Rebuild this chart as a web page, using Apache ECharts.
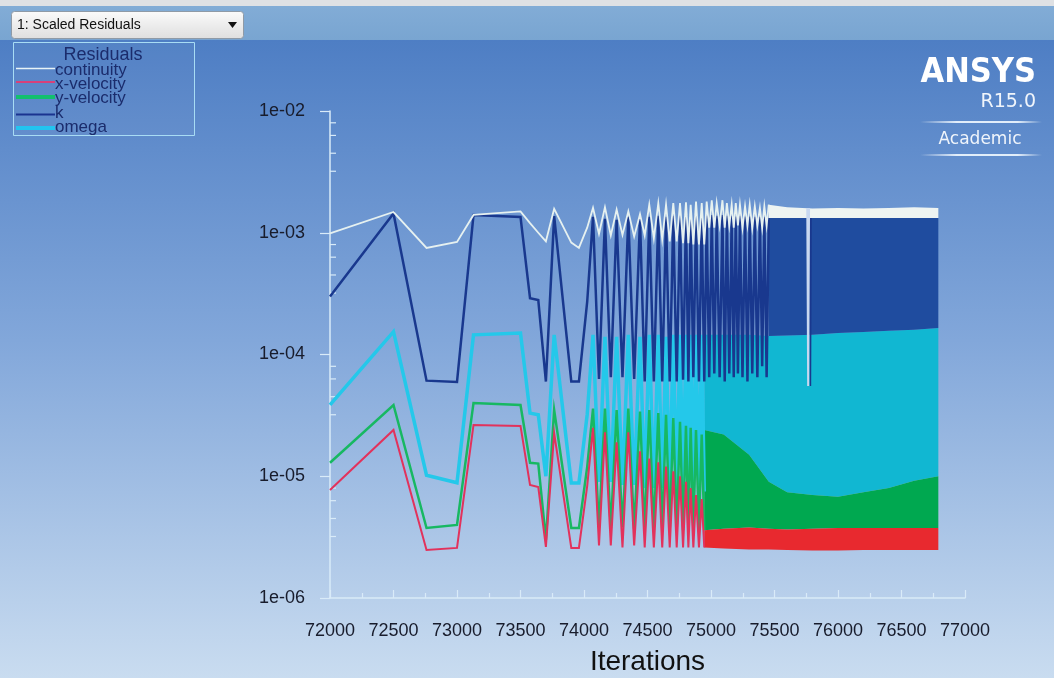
<!DOCTYPE html>
<html>
<head>
<meta charset="utf-8">
<script src="https://cdn.jsdelivr.net/npm/echarts@6/dist/echarts.min.js"></script>
<style>
  html, body { margin: 0; padding: 0; }
  body {
    width: 1054px; height: 678px; overflow: hidden;
    background: linear-gradient(to bottom, #dfe1e4 0px, #dfe1e4 6px, #82acd6 6px, #79a5d1 40px,
      #4e7ec4 40px, #82a7da 340px, #c9dcf0 678px);
  }
  #chart { width: 1054px; height: 678px; }
</style>
</head>
<body>
<div id="chart"></div>
<script>
// iteration numbers of the drawn vertices (early part + zigzag, all series)
const iters = [72000, 72500, 72760, 73000, 73130, 73500, 73575, 73640, 73700, 73765, 73900, 73960, 74025, 74071,
  74118, 74165, 74211, 74257, 74303, 74349, 74395, 74441, 74478, 74514, 74550, 74585, 74616, 74646, 74675,
  74703, 74730, 74756, 74780, 74803, 74822, 74840, 74861, 74882, 74905, 74927, 74947];
// extra zigzag vertices for continuity and k only
const itersLate = [74966, 74986, 75006, 75026, 75045, 75068, 75090, 75108, 75125, 75144, 75163, 75179, 75195,
  75212, 75228, 75248, 75268, 75287, 75305, 75325, 75345, 75365, 75385, 75403, 75420, 75438, 75455];

const continuity = [9.9e-4, 1.48e-3, 7.5e-4, 8.4e-4, 1.40e-3, 1.5e-3, 1.2e-3, 1.0e-3, 8.5e-4, 1.57e-3, 8.3e-4, 7.5e-4, 1.1e-3, 1.6e-3,
  9.8e-4, 1.62e-3, 9.5e-4, 1.55e-3, 9.6e-4, 1.5e-3, 9.3e-4, 1.42e-3, 9.5e-4, 1.7e-3, 9.0e-4, 1.75e-3, 8.8e-4, 1.7e-3,
  8.5e-4, 1.75e-3, 8.5e-4, 1.75e-3, 8.2e-4, 1.78e-3, 8.2e-4, 1.7e-3, 8.0e-4, 1.8e-3, 8.0e-4, 1.75e-3, 8.0e-4];
const continuityLate = [1.8e-3, 1.1e-3, 1.85e-3, 1.1e-3, 1.75e-3, 1.15e-3, 1.85e-3, 1.1e-3, 1.75e-3, 1.15e-3, 1.7e-3, 1.1e-3,
  1.75e-3, 1.15e-3, 1.7e-3, 1.1e-3, 1.65e-3, 1.15e-3, 1.7e-3, 1.1e-3, 1.65e-3, 1.15e-3, 1.6e-3, 1.1e-3, 1.65e-3, 1.15e-3, 1.7e-3];

const kRes = [3.0e-4, 1.44e-3, 6.1e-5, 5.95e-5, 1.4e-3, 1.35e-3, 2.9e-4, 2.8e-4, 6.0e-5, 1.37e-3, 6.0e-5, 6.0e-5, 2.7e-4, 1.35e-3,
  6.3e-5, 1.3e-3, 6.5e-5, 1.28e-3, 6.5e-5, 1.35e-3, 6.3e-5, 1.3e-3, 6.0e-5, 1.35e-3, 6.0e-5, 1.38e-3, 6.0e-5, 1.35e-3,
  6.0e-5, 1.38e-3, 6.0e-5, 1.38e-3, 6.2e-5, 1.4e-3, 6.0e-5, 1.38e-3, 6.5e-5, 1.4e-3, 6.0e-5, 1.38e-3, 6.0e-5];
const kLate = [1.38e-3, 6.5e-5, 1.4e-3, 7e-5, 1.38e-3, 6.5e-5, 1.4e-3, 6e-5, 1.38e-3, 7e-5, 1.38e-3, 6.5e-5, 1.36e-3, 7e-5,
  1.38e-3, 6.5e-5, 1.36e-3, 6e-5, 1.36e-3, 7e-5, 1.35e-3, 6.5e-5, 1.35e-3, 8e-5, 1.35e-3, 6.5e-5, 1.32e-3];

const omega = [3.85e-5, 1.54e-4, 1.02e-5, 8.85e-6, 1.45e-4, 1.5e-4, 3.3e-5, 3.2e-5, 1.0e-5, 1.45e-4, 8.8e-6, 8.8e-6, 3.2e-5, 1.45e-4,
  9e-6, 1.4e-4, 9e-6, 1.4e-4, 8.5e-6, 1.45e-4, 8.5e-6, 1.4e-4, 8e-6, 1.45e-4, 8e-6, 1.45e-4, 8e-6, 1.4e-4,
  7.5e-6, 1.45e-4, 7.5e-6, 1.45e-4, 7.5e-6, 1.45e-4, 7.5e-6, 1.45e-4, 7.5e-6, 1.45e-4, 7.5e-6, 1.45e-4, 7.5e-6];

const yVelocity = [1.29e-5, 3.85e-5, 3.76e-6, 3.98e-6, 4.0e-5, 3.85e-5, 1.29e-5, 1.27e-5, 3.0e-6, 3.5e-5, 3.76e-6, 3.76e-6, 1.19e-5, 3.6e-5,
  3.8e-6, 3.6e-5, 3.7e-6, 3.5e-5, 3.8e-6, 3.6e-5, 3.7e-6, 3.4e-5, 3.6e-6, 3.5e-5, 3.6e-6, 3.3e-5, 3.6e-6, 3.2e-5,
  3.6e-6, 3.0e-5, 3.6e-6, 2.8e-5, 3.6e-6, 2.6e-5, 3.6e-6, 2.5e-5, 3.6e-6, 2.4e-5, 3.6e-6, 2.2e-5, 3.6e-6];

const xVelocity = [7.7e-6, 2.4e-5, 2.48e-6, 2.58e-6, 2.64e-5, 2.59e-5, 8.47e-6, 8.16e-6, 2.63e-6, 2.26e-5, 2.58e-6, 2.58e-6, 8.3e-6, 2.5e-5,
  2.7e-6, 2.3e-5, 2.7e-6, 1.9e-5, 2.6e-6, 2.3e-5, 2.7e-6, 1.6e-5, 2.6e-6, 1.4e-5, 2.6e-6, 1.3e-5, 2.6e-6, 1.2e-5,
  2.6e-6, 1.1e-5, 2.6e-6, 1.0e-5, 2.6e-6, 9e-6, 2.6e-6, 8e-6, 2.6e-6, 7e-6, 2.6e-6, 6.5e-6, 2.6e-6];

// dense part: the curves swing every iteration, so only their envelopes can be read
const bandIters = [74947, 75100, 75300, 75455, 75600, 75800, 76000, 76200, 76400, 76600, 76790];
const contTop  = [null, null, null, 1.7e-3, 1.62e-3, 1.58e-3, 1.6e-3, 1.58e-3, 1.6e-3, 1.62e-3, 1.6e-3];
const kTop     = [null, null, null, 1.32e-3, 1.32e-3, 1.32e-3, 1.32e-3, 1.32e-3, 1.32e-3, 1.32e-3, 1.32e-3];
const omegaTop = [1.45e-4, 1.45e-4, 1.45e-4, 1.42e-4, 1.43e-4, 1.45e-4, 1.5e-4, 1.53e-4, 1.57e-4, 1.6e-4, 1.65e-4];
const yVelTop  = [2.4e-5, 2.2e-5, 1.5e-5, 9.0e-6, 7.4e-6, 7.0e-6, 6.8e-6, 7.4e-6, 8.0e-6, 9.2e-6, 1.0e-5];
const xVelTop  = [3.6e-6, 3.7e-6, 3.8e-6, 3.7e-6, 3.65e-6, 3.7e-6, 3.75e-6, 3.75e-6, 3.75e-6, 3.75e-6, 3.75e-6];
const xVelBottom = [2.6e-6, 2.55e-6, 2.5e-6, 2.5e-6, 2.48e-6, 2.45e-6, 2.45e-6, 2.48e-6, 2.48e-6, 2.48e-6, 2.48e-6];

// single drop-outs near 75770
const contSpikeIters = [75758, 75765, 75772];
const contSpike = [1.6e-3, 5.5e-5, 1.6e-3];
const kSpikeIters = [75778, 75783, 75788];
const kSpike = [1.32e-3, 5.5e-5, 1.32e-3];

const seriesNames = ['continuity', 'x-velocity', 'y-velocity', 'k', 'omega'];
const xTicks = { min: 72000, max: 77000, step: 500 };
const yRange = { min: 1e-6, max: 1e-2 };
const minorFactors = [0.8, 0.63, 0.45, 0.32];

const axisColor = '#d9ebf8';
const labelColor = '#181c2c';
const font = '"Liberation Sans", Arial, sans-serif';

const lineColors = {
  continuity: '#e6f1f0', 'x-velocity': '#e2325c', 'y-velocity': '#17b862', k: '#19388e', omega: '#24c8ea'
};
const bandColors = {
  continuity: '#eef4f2', 'x-velocity': '#e8292f', 'y-velocity': '#00a850', k: '#1f4c9f', omega: '#11b7d2'
};

function lineSeries(name, xs, ys, color, width) {
  return {
    type: 'line', name: name, data: xs.map((x, i) => [x, ys[i]]),
    symbol: 'none', silent: true, clip: true,
    lineStyle: { color: color, width: width, join: 'miter' }, itemStyle: { color: color }
  };
}

function bandSeries(name, lo, hi, color) {
  const pts = [];
  bandIters.forEach((x, i) => {
    if (lo[i] != null && hi[i] != null) pts.push([x, lo[i], hi[i]]);
  });
  return {
    type: 'custom', name: name, silent: true, clip: true,
    data: pts,
    encode: { x: 0, y: [1, 2] },
    renderItem: function (params, api) {
      if (params.dataIndex !== 0) return null;
      const top = pts.map(p => api.coord([p[0], p[2]]));
      const bot = pts.map(p => api.coord([p[0], p[1]])).reverse();
      return { type: 'polygon', shape: { points: top.concat(bot) }, style: { fill: color } };
    }
  };
}

// minor ticks of the log axis, drawn inside the plot
const minorTickVals = [];
for (let e = -2; e > -6; e--) minorFactors.forEach(f => minorTickVals.push(f * Math.pow(10, e)));

const minorTickSeries = {
  type: 'custom', silent: true,
  data: minorTickVals.map(v => [xTicks.min, v]),
  renderItem: function (params, api) {
    const p = api.coord([api.value(0), api.value(1)]);
    return { type: 'line', shape: { x1: p[0], y1: p[1], x2: p[0] + 6, y2: p[1] },
      style: { stroke: axisColor, lineWidth: 1.2 } };
  }
};

const legendLineY = [68.5, 82, 97, 114.5, 128];
const legendTextY = [70, 84, 98.5, 113, 127.5];
const legendWidths = [1.5, 2, 4, 2, 4];
const legendColors = ['#e8f3f7', '#d8407a', '#12c06e', '#1a3490', '#22c4f0'];

const graphics = [
  // dropdown
  { type: 'rect', shape: { x: 11.5, y: 11.5, width: 232, height: 27, r: 3 },
    style: { fill: new echarts.graphic.LinearGradient(0, 0, 0, 1, [
      { offset: 0, color: '#fbfbfb' }, { offset: 1, color: '#dedede' }]), stroke: '#8f9aa6', lineWidth: 1 } },
  { type: 'text', style: { text: '1: Scaled Residuals', x: 17, y: 25.5, font: '14px ' + font,
      fill: '#101010', textVerticalAlign: 'middle' } },
  { type: 'polygon', shape: { points: [[228, 22], [237, 22], [232.5, 28]] }, style: { fill: '#111' } },
  // legend box
  { type: 'rect', shape: { x: 13.5, y: 42.5, width: 181, height: 93 },
    style: { fill: 'rgba(255,255,255,0.03)', stroke: '#a8dcf4', lineWidth: 1 } },
  { type: 'text', style: { text: 'Residuals', x: 103, y: 55, font: '18px ' + font, fill: '#1b2c6c',
      textAlign: 'center', textVerticalAlign: 'middle' } }
];
seriesNames.forEach((n, i) => {
  graphics.push({ type: 'line', shape: { x1: 16, y1: legendLineY[i], x2: 55, y2: legendLineY[i] },
    style: { stroke: legendColors[i], lineWidth: legendWidths[i] } });
  graphics.push({ type: 'text', style: { text: n, x: 55, y: legendTextY[i], font: '17px ' + font,
    fill: '#1b2c6c', textVerticalAlign: 'middle' } });
});
// ANSYS mark
const rule = new echarts.graphic.LinearGradient(0, 0, 1, 0, [
  { offset: 0, color: 'rgba(255,255,255,0)' }, { offset: 0.3, color: 'rgba(240,248,255,0.9)' },
  { offset: 0.8, color: 'rgba(240,248,255,0.9)' }, { offset: 1, color: 'rgba(255,255,255,0)' }]);
graphics.push(
  { type: 'text', style: { text: 'ANSYS', x: 1036, y: 73, font: 'bold 34px "DejaVu Sans Condensed", "DejaVu Sans", sans-serif',
      fill: '#ffffff', textAlign: 'right', textVerticalAlign: 'middle' } },
  { type: 'text', style: { text: 'R15.0', x: 1036, y: 102, font: '19px "DejaVu Sans", sans-serif',
      fill: '#f0f5fb', textAlign: 'right', textVerticalAlign: 'middle' } },
  { type: 'rect', shape: { x: 920, y: 121, width: 122, height: 2 }, style: { fill: rule } },
  { type: 'text', style: { text: 'Academic', x: 980, y: 140, font: '17px "DejaVu Sans", sans-serif',
      fill: '#f0f5fb', textAlign: 'center', textVerticalAlign: 'middle' } },
  { type: 'rect', shape: { x: 920, y: 154, width: 122, height: 2 }, style: { fill: rule } }
);

function expLabel(v) {
  const e = Math.round(-Math.log10(v));
  return '1e-' + String(e).padStart(2, '0');
}

const chart = echarts.init(document.getElementById('chart'), null, { renderer: 'canvas' });
chart.setOption({
  backgroundColor: 'transparent',
  animation: false,
  grid: { left: 330, right: 89, top: 111, bottom: 80, containLabel: false, outerBoundsMode: 'none' },
  xAxis: {
    type: 'value', min: xTicks.min, max: xTicks.max, interval: xTicks.step,
    name: 'Iterations', nameLocation: 'middle', nameGap: 50,
    nameTextStyle: { fontSize: 28, color: '#111', fontFamily: font },
    axisLine: { show: true, lineStyle: { color: axisColor, width: 1.5 } },
    axisTick: { show: true, inside: true, length: 8, lineStyle: { color: axisColor, width: 1.2 } },
    minorTick: { show: true, splitNumber: 2, length: 5, lineStyle: { color: axisColor, width: 1.2 } },
    splitLine: { show: false },
    axisLabel: { color: labelColor, fontSize: 18, fontFamily: font, margin: 24, formatter: v => String(v) }
  },
  yAxis: {
    type: 'log', logBase: 10, min: yRange.min, max: yRange.max,
    axisLine: { show: true, lineStyle: { color: axisColor, width: 1.5 } },
    axisTick: { show: true, inside: false, length: 10, lineStyle: { color: axisColor, width: 1.2 } },
    splitLine: { show: false },
    axisLabel: { color: labelColor, fontSize: 18, fontFamily: font, margin: 25, formatter: expLabel }
  },
  graphic: graphics,
  series: [
    bandSeries('omega', yVelTop, omegaTop, bandColors.omega),
    lineSeries('omega', iters, omega, lineColors.omega, 3.5),
    bandSeries('y-velocity', xVelTop, yVelTop, bandColors['y-velocity']),
    lineSeries('y-velocity', iters, yVelocity, lineColors['y-velocity'], 2.5),
    bandSeries('x-velocity', xVelBottom, xVelTop, bandColors['x-velocity']),
    lineSeries('x-velocity', iters, xVelocity, lineColors['x-velocity'], 2),
    bandSeries('k', omegaTop, kTop, bandColors.k),
    lineSeries('k', iters.concat(itersLate), kRes.concat(kLate), lineColors.k, 2.5),
    lineSeries('k', kSpikeIters, kSpike, lineColors.k, 1.5),
    bandSeries('continuity', kTop, contTop, bandColors.continuity),
    lineSeries('continuity', iters.concat(itersLate), continuity.concat(continuityLate), lineColors.continuity, 1.8),
    lineSeries('continuity', contSpikeIters, contSpike, '#c8d8f0', 2),
    minorTickSeries
  ]
});
</script>
</body>
</html>
